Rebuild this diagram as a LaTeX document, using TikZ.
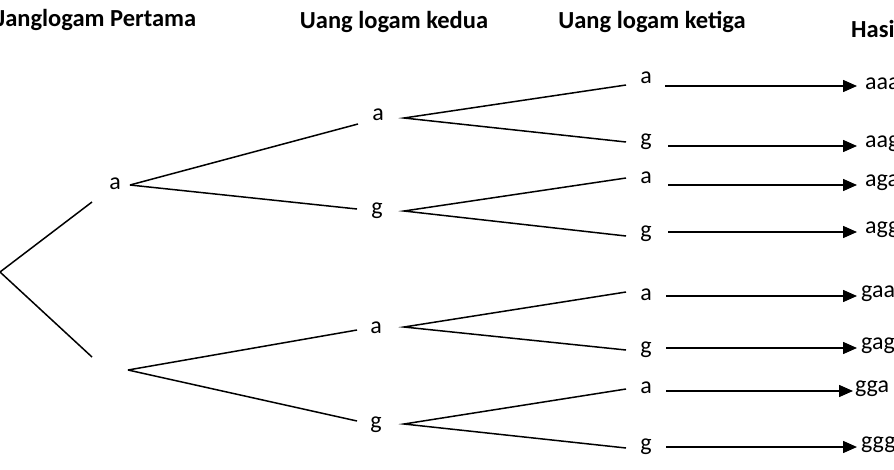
\documentclass[tikz,border=0pt]{standalone}
\usepackage{fontspec}
\setmainfont{Carlito}
\usetikzlibrary{arrows.meta}
\begin{document}
\begin{tikzpicture}[x=1pt,y=-1pt,
  lbl/.style={font=\fontsize{24}{26}\selectfont,inner sep=0pt},
  hdr/.style={font=\fontsize{24.5}{26}\selectfont\bfseries,inner sep=0pt},
  br/.style={line width=1.5pt},
  arr/.style={line width=1.5pt,-{Triangle[length=14pt,width=12pt]}}]
\useasboundingbox (0,0) rectangle (894,469);
\clip (0,0) rectangle (894,469);
\node[hdr,anchor=west] (h1) at (-3,20) {Janglogam Pertama};
\node[hdr] (h2) at (394,22) {Uang logam kedua};
\node[hdr] (h3) at (652,22) {Uang logam ketiga};
\node[hdr,anchor=west] (h4) at (851,29) {Hasil};
% level 1
\coordinate (root) at (0,272);
\coordinate (e1) at (92,202);
\coordinate (e2) at (92,357);
\draw[br] (e1) -- (root) -- (e2);
\node[lbl] (a1) at (115,184) {a};
\coordinate (s1) at (130,185);
\coordinate (s2) at (128,370);
% level 2
\node[lbl] (a2) at (378,115) {a};
\node[lbl] (g2) at (377,211) {g};
\node[lbl] (a3) at (376,328) {a};
\node[lbl] (g3) at (376,425) {g};
\draw[br] (358,124) coordinate (t1) (s1) -- (t1);
\draw[br] (s1) -- (357,209) coordinate (t2);
\draw[br] (s2) -- (357,330) coordinate (t3);
\draw[br] (s2) -- (357,421) coordinate (t4);
% level 3
\foreach \n/\y/\ya/\yg in {1/118/85/142, 2/211/178/236, 3/327/292/350, 4/424/389/448}{
  \coordinate (r\n) at (404,\y);
  \coordinate (ua\n) at (626,\ya);
  \coordinate (ug\n) at (626,\yg);
  \draw[br] (ua\n) -- (r\n) -- (ug\n);
}
\foreach \n/\ya/\yg in {1/78/142, 2/178/234, 3/295/350, 4/388/447}{
  \node[lbl] (la\n) at (646,\ya) {a};
  \node[lbl] (lg\n) at (646,\yg) {g};
}
% results
\foreach \i/\y/\xs/\xe/\xt/\t in {1/86/665/857/865/aaa, 2/146/668/857/865/aag, 3/185/668/857/865/aga, 4/232/668/857/865/agg, 5/296/666/857/861/gaa, 6/348/666/857/861/gag, 7/391/666/853/855/gga, 8/447/666/857/861/ggg}{
  \coordinate (p\i) at (\xs,\y);
  \node[lbl,anchor=west] (res\i) at (\xt,\y-2) {\t};
  \draw[arr] (p\i) -- (\xe,\y) coordinate (q\i);
}
\end{tikzpicture}
\end{document}
